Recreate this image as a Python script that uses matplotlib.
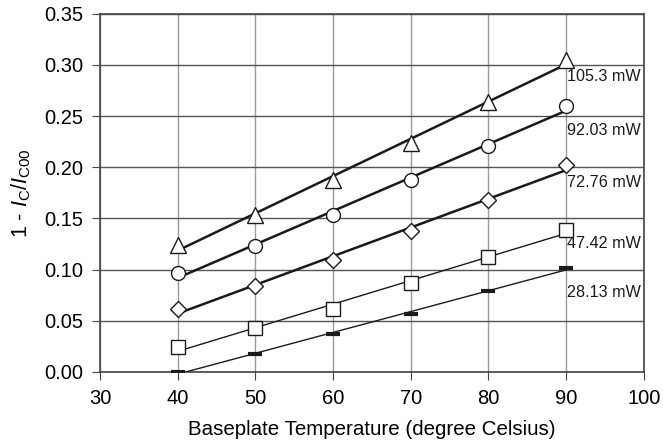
import numpy as np
import matplotlib.pyplot as plt

plt.rcParams.update({
    "font.family": "Liberation Sans",
    "font.size": 14,
    "mathtext.fontset": "custom",
    "mathtext.rm": "Liberation Sans",
    "mathtext.it": "Liberation Sans:italic",
})

temps = [40, 50, 60, 70, 80, 90]

p105 = [0.124, 0.153, 0.188, 0.224, 0.264, 0.305]
p92 = [0.097, 0.123, 0.153, 0.188, 0.221, 0.260]
p72 = [0.062, 0.084, 0.109, 0.138, 0.168, 0.202]
p47 = [0.024, 0.043, 0.062, 0.087, 0.112, 0.139]
p28 = [0.000, 0.018, 0.037, 0.057, 0.079, 0.102]

labels = ["105.3 mW", "92.03 mW", "72.76 mW", "47.42 mW", "28.13 mW"]
label_y = [0.289, 0.2356, 0.185, 0.126, 0.0775]

series = [p105, p92, p72, p47, p28]
markers = ["^", "o", "D", "s", "_"]
msizes = [11, 10, 8, 10, 10]
lwidths = [1.8, 1.8, 1.8, 1.0, 1.0]

fig, ax = plt.subplots(figsize=(6.63, 4.46), dpi=100)
fig.subplots_adjust(left=0.151, right=0.971, top=0.969, bottom=0.166)

x = np.array(temps)
for ys, m, ms, lw in zip(series, markers, msizes, lwidths):
    # linear trend through each power level
    k, b = np.polyfit(x, ys, 1)
    ax.plot(x, k * x + b, color="#1a1a1a", lw=lw, zorder=3)
    if m == "_":
        ax.plot(x, ys, ls="none", marker=m, ms=ms, mew=3, color="#1a1a1a", zorder=4)
    else:
        ax.plot(x, ys, ls="none", marker=m, ms=ms, mfc="white", mec="#1a1a1a",
                mew=1.0, zorder=4)

for txt, ty in zip(labels, label_y):
    ax.text(90.1, ty, txt, fontsize=11.6, ha="left", va="center", color="#1a1a1a")

ax.set_xlim(30, 100)
ax.set_ylim(0, 0.35)
ax.set_xticks(np.arange(30, 101, 10))
ax.set_yticks(np.arange(0, 0.351, 0.05))
ax.yaxis.set_major_formatter(plt.FormatStrFormatter("%.2f"))

ax.xaxis.grid(True, color="#9a9a9a", lw=1.0)
ax.yaxis.grid(True, color="#555555", lw=1.0)
ax.set_axisbelow(True)

for s in ax.spines.values():
    s.set_color("#444444")
    s.set_linewidth(1.2)
ax.tick_params(direction="out", length=6, color="#444444", labelsize=14.5, pad=6)

ax.set_xlabel("Baseplate Temperature (degree Celsius)", fontsize=14.8, labelpad=9)
ax.set_ylabel(r"1 - $I_\mathrm{C}/I_\mathrm{C00}$", fontsize=15.5, labelpad=8)

fig.savefig("out.png", dpi=100)
